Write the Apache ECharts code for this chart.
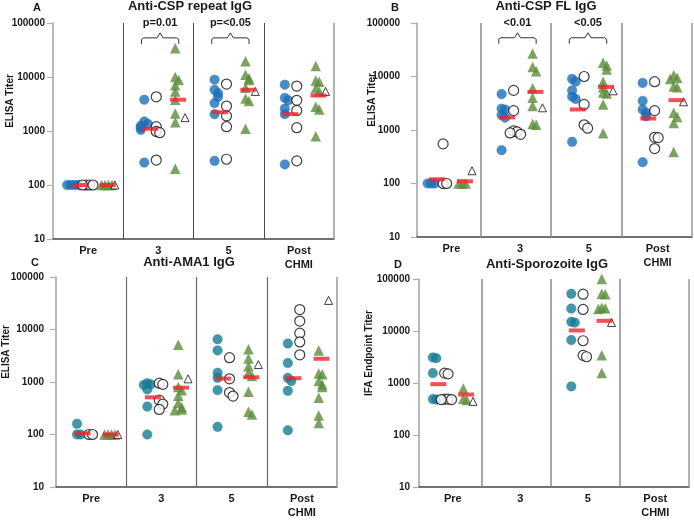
<!DOCTYPE html>
<html><head><meta charset="utf-8">
<script src="https://cdn.jsdelivr.net/npm/echarts@6/dist/echarts.min.js"></script>
<style>html,body{margin:0;padding:0;background:#fff}#c{width:694px;height:520px}</style>
</head><body><div id="c"></div><script>
// ---------- data ----------
const categories = ['Pre', '3', '5', 'Post\nCHMI'];
const panelTitles = ['Anti-CSP repeat IgG', 'Anti-CSP FL IgG', 'Anti-AMA1 IgG', 'Anti-Sporozoite IgG'];
const panelLetters = ['A', 'B', 'C', 'D'];
const yNames = ['ELISA Titer', 'ELISA Titer', 'ELISA Titer', 'IFA Endpoint Titer'];

// Panel A — Anti-CSP repeat IgG
const aBlue = [[100,100,100,100,100],[3800,1500,1350,1250,1150,1050,260],[8900,5800,5000,4300,3300,2050,280],[7200,4100,3700,2600,2050,240]];
const aOpen = [[100,100,100,100],[4300,1200,980,930,290],[7400,2900,1900,1200,300],[6800,3700,2400,1150,280]];
const aGreen = [[100,100,100,100],[34000,10000,8800,7000,5400,3800,2100,1450,200],[19500,11000,9500,8800,6300,4000,3600,1100],[16000,8600,8200,6200,5400,2800,2500,800]];
const aOpenTri = [[100],[1770],[5400],[5400]];
const aMedCirc = [100,1100,2230,2050];
const aMedTri = [100,3800,5800,4540];
const aBracketGroups = [1, 2];
const aBracketLabels = ['p=0.01', 'p=<0.05'];

// Panel B — Anti-CSP FL IgG
const bBlue = [[100,100,100],[4700,2500,2400,1900,1700,420],[9000,8000,5500,4200,3800,600],[7600,3500,2400,2100,1800,250]];
const bOpen = [[550,100,100],[5500,2300,960,920,880,830],[10000,3000,1250,1080],[8000,2300,730,720,450]];
const bGreen = [[100,100,100],[27000,15000,12500,6000,4000,2800,1300,1250],[18000,16000,13500,8000,6300,5000,4800,3000,870],[10500,9500,9000,6500,6300,2100,1750,1350,390]];
const bOpenTri = [[173],[2600],[5400],[3360]];
const bMedCirc = [120,1720,2420,1640];
const bMedTri = [110,5160,6400,3610];
const bBracketGroups = [1, 2];
const bBracketLabels = ['<0.01', '<0.05'];

// Panel C — Anti-AMA1 IgG
const cBlue = [[160,100,100],[950,900,880,720,340,100],[6500,4000,1500,1200,700,140],[5400,2300,1200,1050,680,120]];
const cOpen = [[100,100],[950,900,450,380,300],[2900,1150,630,540],[24000,14500,8500,5800,3300]];
const cGreen = [[100,100,100,100],[5100,1400,800,700,550,400,330,300,290],[4200,2800,2000,1500,1300,650,270,240],[4000,1450,1400,1050,900,800,500,230,165]];
const cOpenTri = [[100],[1150],[2150],[35800]];
const cMedCirc = [105,510,1160,1180];
const cMedTri = [100,780,1230,2770];

// Panel D — Anti-Sporozoite IgG
const dBlue = [[3100,3000,1550,490,480],[],[52000,27000,15000,14500,6700,860],[]];
const dOpen = [[1550,1500,490,490,480,480],[],[51000,26000,6500,3400,3200],[]];
const dGreen = [[780,500,470],[],[100000,52000,51000,28000,27500,26500,3400,1550],[]];
const dOpenTri = [[443],[],[14600],[]];
const dMedCirc = [950,null,10250,null];
const dMedTri = [600,null,15700,null];

// ---------- layout / style ----------
const panels = [
  {blue:aBlue, open:aOpen, green:aGreen, openTri:aOpenTri, medC:aMedCirc, medT:aMedTri, br:aBracketGroups, brL:aBracketLabels,
   grid:{left:53,right:360,top:23,bottom:281}, xmin:0, blueColor:'#1c6fb8', sepColor:'#4a4a4a', sepWidth:1, labelMargin:8, nameGap:38,
   title:{x:190,y:0}, letter:{x:33,y:2}},
  {blue:bBlue, open:bOpen, green:bGreen, openTri:bOpenTri, medC:bMedCirc, medT:bMedTri, br:bBracketGroups, brL:bBracketLabels,
   grid:{left:417,right:2,top:23,bottom:283}, xmin:0.1, blueColor:'#1c6fb8', sepColor:'#8a8a8a', sepWidth:1.5, labelMargin:17, nameGap:40,
   title:{x:546,y:0}, letter:{x:391,y:2}},
  {blue:cBlue, open:cOpen, green:cGreen, openTri:cOpenTri, medC:cMedCirc, medT:cMedTri, br:[], brL:[],
   grid:{left:55,right:357,top:277,bottom:26}, xmin:0, blueColor:'#177a94', sepColor:'#6a6a6a', sepWidth:1.2, labelMargin:12, nameGap:45,
   title:{x:189,y:256}, letter:{x:31,y:257}},
  {blue:dBlue, open:dOpen, green:dGreen, openTri:dOpenTri, medC:dMedCirc, medT:dMedTri, br:[], brL:[],
   grid:{left:419,right:5,top:279,bottom:24}, xmin:0.1, blueColor:'#177a94', sepColor:'#8a8a8a', sepWidth:1.5, labelMargin:9, nameGap:45,
   title:{x:547,y:258}, letter:{x:394,y:259}}
];
const OFF = {blue:0.30, open:0.47, green:0.74, openTri:0.88, medC:0.38, medT:0.78};
const GREEN = '#5b8c3b', RED = '#f2222c', TXT = '#1a1a1a';
const FONT = 'Liberation Sans, Arial, sans-serif';

function dodge(vals) {
  const placed = [];
  return vals.map(v => {
    const lv = Math.log10(v);
    const n = placed.filter(p => Math.abs(p - lv) < 0.085).length;
    placed.push(lv);
    const k = Math.ceil(n / 2) * (n % 2 ? 1 : -1);
    return k * 0.05;
  });
}
function pts(groups, off) {
  const out = [];
  groups.forEach((vals, gi) => {
    const j = dodge(vals);
    vals.forEach((v, i) => out.push([gi + off + j[i], v]));
  });
  return out;
}
function meds(arr, off) {
  const out = [];
  arr.forEach((v, gi) => { if (v != null) out.push([gi + off, v]); });
  return out;
}
const BRACKET_LEVEL = 53000;
function bracketRender(labels) {
  return function (params, api) {
    const g = api.value(0);
    const p1 = api.coord([g + 0.26, api.value(1)]);
    const p2 = api.coord([g + 0.79, api.value(1)]);
    const y = p1[1], x1 = p1[0], x2 = p2[0], xm = (x1 + x2) / 2;
    return {type:'group', children:[
      {type:'polyline', shape:{points:[[x1,y+6],[x1,y+1.5],[x1+2,y],[xm-3,y],[xm,y-5],[xm+3,y],[x2-2,y],[x2,y+1.5],[x2,y+6]]},
       style:{stroke:'#333', lineWidth:1, fill:null}},
      {type:'text', style:{text:labels[params.dataIndex], x:xm, y:y-15, align:'center', verticalAlign:'middle',
       font:'bold 11px ' + FONT, fill:TXT}}
    ]};
  };
}

const grid = [], xAxis = [], yAxis = [], series = [], title = [];
panels.forEach((p, i) => {
  grid.push(p.grid);
  xAxis.push({type:'value', gridIndex:i, min:p.xmin, max:4, axisLabel:{show:false}, axisTick:{show:false},
    splitLine:{show:false}, axisLine:{show:true, lineStyle:{color:'#444', width:1.5}}});
  xAxis.push({type:'category', gridIndex:i, data:categories, position:'bottom', axisLine:{show:false}, axisTick:{show:false},
    axisLabel:{fontFamily:FONT, fontWeight:'bold', fontSize:11, color:TXT, margin:5, lineHeight:14}});
  yAxis.push({type:'log', logBase:10, gridIndex:i, min:10, max:100000,
    name:yNames[i], nameLocation:'middle', nameGap:p.nameGap, nameRotate:90, nameMoveOverlap:false,
    nameTextStyle:{fontFamily:FONT, fontWeight:'bold', fontSize:10, color:TXT, padding:[0,0,0,60]},
    axisLine:{show:true, lineStyle:{color:'#a0a0a0', width:1.5}},
    axisTick:{show:true, length:6, lineStyle:{color:'#b0b0b0', width:1.2}},
    splitLine:{show:false},
    axisLabel:{fontFamily:FONT, fontWeight:'bold', fontSize:10, color:TXT, margin:p.labelMargin, formatter:v => String(Math.round(v))}});
  const xi = 2 * i;
  series.push({type:'scatter', xAxisIndex:xi, yAxisIndex:i, symbol:'circle', symbolSize:9.5, z:2,
    itemStyle:{color:p.blueColor, borderColor:p.blueColor, borderWidth:0.5}, data:pts(p.blue, OFF.blue),
    markLine:{silent:true, symbol:'none', label:{show:false}, animation:false,
      lineStyle:{color:p.sepColor, width:p.sepWidth, type:'solid'},
      data:[{xAxis:1},{xAxis:2},{xAxis:3},{xAxis:4, lineStyle:{color:'#9a9a9a', width:1.5, type:'solid'}}]}});
  series.push({type:'scatter', xAxisIndex:xi, yAxisIndex:i, symbol:'circle', symbolSize:10, z:3,
    itemStyle:{color:'#ffffff', borderColor:'#111', borderWidth:1.2}, data:pts(p.open, OFF.open)});
  series.push({type:'scatter', xAxisIndex:xi, yAxisIndex:i, symbol:'triangle', symbolSize:10.5, z:3,
    itemStyle:{color:GREEN}, data:pts(p.green, OFF.green)});
  series.push({type:'scatter', xAxisIndex:xi, yAxisIndex:i, symbol:'triangle', symbolSize:8, z:4,
    itemStyle:{color:'#ffffff', borderColor:'#111', borderWidth:1}, data:pts(p.openTri, OFF.openTri)});
  series.push({type:'scatter', xAxisIndex:xi, yAxisIndex:i, symbol:'rect', symbolSize:[16,4], z:5,
    itemStyle:{color:RED}, data:meds(p.medC, OFF.medC)});
  series.push({type:'scatter', xAxisIndex:xi, yAxisIndex:i, symbol:'rect', symbolSize:[16,4], z:5,
    itemStyle:{color:RED}, data:meds(p.medT, OFF.medT)});
  if (p.br.length) {
    series.push({type:'custom', xAxisIndex:xi, yAxisIndex:i, coordinateSystem:'cartesian2d', clip:false, z:6,
      renderItem:bracketRender(p.brL), data:p.br.map(g => [g, BRACKET_LEVEL])});
  }
  title.push({text:panelTitles[i], left:p.title.x, top:p.title.y, textAlign:'center',
    textStyle:{fontFamily:FONT, fontWeight:'bold', fontSize:13, color:TXT}, padding:0});
  title.push({text:panelLetters[i], left:p.letter.x, top:p.letter.y,
    textStyle:{fontFamily:FONT, fontWeight:'bold', fontSize:11, color:TXT}, padding:0});
});

const chart = echarts.init(document.getElementById('c'), null, {renderer:'canvas'});
chart.setOption({animation:false, backgroundColor:'#ffffff', title, grid, xAxis, yAxis, series});
</script></body></html>
